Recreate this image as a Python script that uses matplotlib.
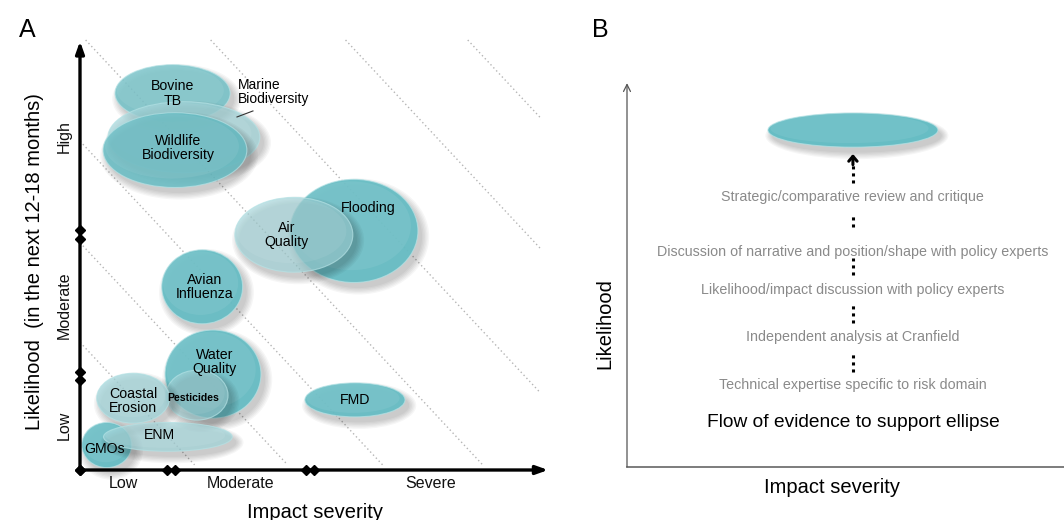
import matplotlib
matplotlib.use('Agg')
import matplotlib.pyplot as plt
from matplotlib.patches import Ellipse
import numpy as np

plt.rcParams['font.family'] = ['Liberation Sans', 'DejaVu Sans']

# ---------------- Panel A data (0-100 scales) ----------------
risks = ['Bovine TB', 'Marine Biodiversity', 'Wildlife Biodiversity', 'Flooding',
         'Air Quality', 'Avian Influenza', 'Water Quality', 'Pesticides',
         'Coastal Erosion', 'GMOs', 'ENM', 'FMD']
impact = [19.7, 22.1, 20.2, 58.3, 45.5, 26.0, 28.3, 24.9, 11.3, 5.7, 18.7, 58.5]
likelihood = [87.6, 77.4, 74.4, 55.6, 54.7, 42.6, 22.3, 17.4, 16.7, 5.8, 7.7, 16.3]
impact_range = [24.5, 32.3, 30.6, 27.2, 25.1, 17.2, 20.4, 13.2, 15.5, 10.6, 27.4, 21.3]
likelihood_range = [13.3, 16.5, 17.4, 24.0, 17.4, 17.2, 20.5, 11.6, 11.6, 10.5, 6.7, 7.9]

impact_bands = ['Low', 'Moderate', 'Severe']
impact_band_edges = [(0.0, 18.5), (20.2, 48.1), (49.8, 99.4)]
likelihood_bands = ['Low', 'Moderate', 'High']
likelihood_band_edges = [(0.0, 20.9), (22.8, 53.7), (55.8, 99.5)]

iso_risk_levels = [25.4, 45.2, 65.4, 86.7, 113.3, 142.0, 168.0]

# ---------------- Panel B data ----------------
evidence_steps = ['Technical expertise specific to risk domain',
                  'Independent analysis at Cranfield',
                  'Likelihood/impact discussion with policy experts',
                  'Discussion of narrative and position/shape with policy experts',
                  'Strategic/comparative review and critique']
b_ellipse = (51.7, 78.9, 38.9, 8.0)

# ---------------- styles / layout ----------------
TEAL = '#67bdc4'
LIGHT = '#9fd4d9'
display = {
    'Bovine TB': 'Bovine\nTB', 'Marine Biodiversity': 'Marine\nBiodiversity',
    'Wildlife Biodiversity': 'Wildlife\nBiodiversity', 'Flooding': 'Flooding',
    'Air Quality': 'Air\nQuality', 'Avian Influenza': 'Avian\nInfluenza',
    'Water Quality': 'Water\nQuality', 'Pesticides': 'Pesticides',
    'Coastal Erosion': 'Coastal\nErosion', 'GMOs': 'GMOs', 'ENM': 'ENM', 'FMD': 'FMD'}
fill = {'Bovine TB': ('#74c2c8', 0.85), 'Marine Biodiversity': (LIGHT, 0.7),
        'Wildlife Biodiversity': (TEAL, 0.85), 'Flooding': (TEAL, 0.95),
        'Air Quality': (LIGHT, 0.65), 'Avian Influenza': (TEAL, 0.95),
        'Water Quality': (TEAL, 0.95), 'Pesticides': (LIGHT, 0.55),
        'Coastal Erosion': (LIGHT, 0.75), 'GMOs': (TEAL, 0.95),
        'ENM': (LIGHT, 0.7), 'FMD': (TEAL, 0.95)}
label_off = {'Bovine TB': (0, 0), 'Wildlife Biodiversity': (0.7, 0.5), 'Flooding': (3.0, 5.3),
             'Air Quality': (-1.5, 0), 'Avian Influenza': (0.6, 0), 'Water Quality': (0.4, 2.8),
             'Pesticides': (-0.9, -0.7), 'Coastal Erosion': (0, -0.7), 'GMOs': (-0.4, -0.9),
             'ENM': (-1.7, 0.4), 'FMD': (0, 0)}

fig = plt.figure(figsize=(10.64, 5.2), dpi=100)


def draw_ellipse(ax, cx, cy, w, h, color, alpha, z):
    for k in range(6):
        g = 0.6 * k
        ax.add_patch(Ellipse((cx + 0.9, cy - 1.3), w + g, h + g, facecolor='black',
                             alpha=0.035, edgecolor='none', zorder=z - 0.5, clip_on=False))
    ax.add_patch(Ellipse((cx, cy), w, h, facecolor=color, alpha=alpha,
                         edgecolor='none', zorder=z, clip_on=False))
    ax.add_patch(Ellipse((cx - 0.02 * w, cy + 0.05 * h), 0.93 * w, 0.86 * h, facecolor='white',
                         alpha=0.07, edgecolor='none', zorder=z + 0.1, clip_on=False))
    ax.add_patch(Ellipse((cx, cy), w, h, facecolor='none', edgecolor='#b5e2e5',
                         lw=0.8, alpha=0.7, zorder=z + 0.2, clip_on=False))


# ================= Panel A =================
axA = fig.add_axes([80 / 1064, 50 / 520, 470 / 1064, 430 / 520])
axA.set_xlim(0, 100)
axA.set_ylim(0, 100)
axA.axis('off')

# iso-risk dotted lines
for c in iso_risk_levels:
    x0 = max(0.0, c - 0.855 * 100)
    x1 = min(97.9, c - 0.855 * 1.2)
    xs = np.array([x0, x1])
    ys = (c - xs) / 0.855
    axA.plot(xs, ys, color='#b5b5b5', lw=1.0, ls=(0, (1, 2)), zorder=0.5, clip_on=False)

for i, name in enumerate(risks):
    col, al = fill[name]
    draw_ellipse(axA, impact[i], likelihood[i], impact_range[i], likelihood_range[i], col, al, 2 + i)

for i, name in enumerate(risks):
    if name == 'Marine Biodiversity':
        axA.text(impact[i] + 11.5, likelihood[i] + 10.5, display[name], ha='left', va='center',
                 fontsize=10, linespacing=1.05, zorder=50)
        axA.plot([impact[i] + 14.7, impact[i] + 11.3], [likelihood[i] + 6.1, likelihood[i] + 4.7],
                 color='#333333', lw=0.8, zorder=50)
        continue
    dx, dy = label_off[name]
    fs = 7.6 if name == 'Pesticides' else 10.2
    fw = 'bold' if name == 'Pesticides' else 'normal'
    axA.text(impact[i] + dx, likelihood[i] + dy, display[name], ha='center', va='center',
             fontsize=fs, fontweight=fw, linespacing=1.05, zorder=50)

# axes with arrows and diamonds
axA.annotate('', xy=(99.6, 0), xytext=(0, 0),
             arrowprops=dict(arrowstyle='-|>,head_width=0.25,head_length=0.7', lw=2.4, color='black',
                             shrinkA=0, shrinkB=0), annotation_clip=False, zorder=20)
axA.annotate('', xy=(0, 99.7), xytext=(0, 0),
             arrowprops=dict(arrowstyle='-|>,head_width=0.25,head_length=0.7', lw=2.4, color='black',
                             shrinkA=0, shrinkB=0), annotation_clip=False, zorder=20)
xd = [0.0, impact_band_edges[0][1], impact_band_edges[1][0], impact_band_edges[1][1],
      impact_band_edges[2][0]]
axA.plot(xd, [0] * len(xd), ls='none', marker='D', ms=5, color='black',
         clip_on=False, zorder=21)
yd = [0.0, likelihood_band_edges[0][1], likelihood_band_edges[1][0], likelihood_band_edges[1][1],
      likelihood_band_edges[2][0]]
axA.plot([0] * len(yd), yd, ls='none', marker='D', ms=5, color='black', clip_on=False, zorder=21)

for lab, (a, b) in zip(impact_bands, impact_band_edges):
    axA.text((a + b) / 2, -3.1, lab, ha='center', va='center', fontsize=11.5, color='#111111')
for lab, (a, b) in zip(likelihood_bands, likelihood_band_edges):
    axA.text(-3.3, (a + b) / 2, lab, ha='center', va='center', rotation=90, fontsize=11.5,
             color='#111111')

axA.text(50.0, -9.8, 'Impact severity', ha='center', va='center', fontsize=14.5)
axA.text(-9.6, 48.4, 'Likelihood  (in the next 12-18 months)', ha='center', va='center',
         rotation=90, fontsize=14.5)

fig.text(27 / 1064, 1 - 30 / 520, 'A', ha='center', va='center', fontsize=18)
fig.text(600 / 1064, 1 - 30 / 520, 'B', ha='center', va='center', fontsize=18)

# ================= Panel B =================
axB = fig.add_axes([627 / 1064, 53 / 520, 437 / 1064, 427 / 520])
axB.set_xlim(0, 100)
axB.set_ylim(0, 100)
axB.axis('off')

axB.plot([0, 100], [0, 0], color='#666666', lw=1.2, clip_on=False, zorder=3)
axB.annotate('', xy=(0, 89.9), xytext=(0, 0),
             arrowprops=dict(arrowstyle='->,head_width=0.25,head_length=0.5', lw=0.9,
                             color='#555555', shrinkA=0, shrinkB=0), annotation_clip=False)

bx, by, bw, bh = b_ellipse
draw_ellipse(axB, bx, by, bw, bh, TEAL, 1.0, 5)

step_y = [19.2, 30.4, 41.5, 50.4, 63.2]
for s, y in zip(evidence_steps, step_y):
    axB.text(bx, y, s, ha='center', va='center', fontsize=10.3, color='#8a8a8a')

connectors = [(22.2, 26.9), (33.7, 37.9), (45.0, 48.9), (56.2, 59.5), (66.5, 71.5)]
for y0, y1 in connectors:
    axB.plot([bx, bx], [y0, y1], color='black', lw=2.2, ls=(0, (1, 1.3)), zorder=6)
axB.annotate('', xy=(bx, 73.3), xytext=(bx, 70.8),
             arrowprops=dict(arrowstyle='->,head_width=0.3,head_length=0.35', lw=2.2,
                             color='black', shrinkA=0, shrinkB=0))

axB.text(bx, 10.5, 'Flow of evidence to support ellipse', ha='center', va='center', fontsize=13.8)
axB.text(-5.0, 33.7, 'Likelihood', ha='center', va='center', rotation=90, fontsize=14.5)
axB.text(46.9, -4.7, 'Impact severity', ha='center', va='center', fontsize=14.5)

fig.savefig('out.png', dpi=100, facecolor='white')
